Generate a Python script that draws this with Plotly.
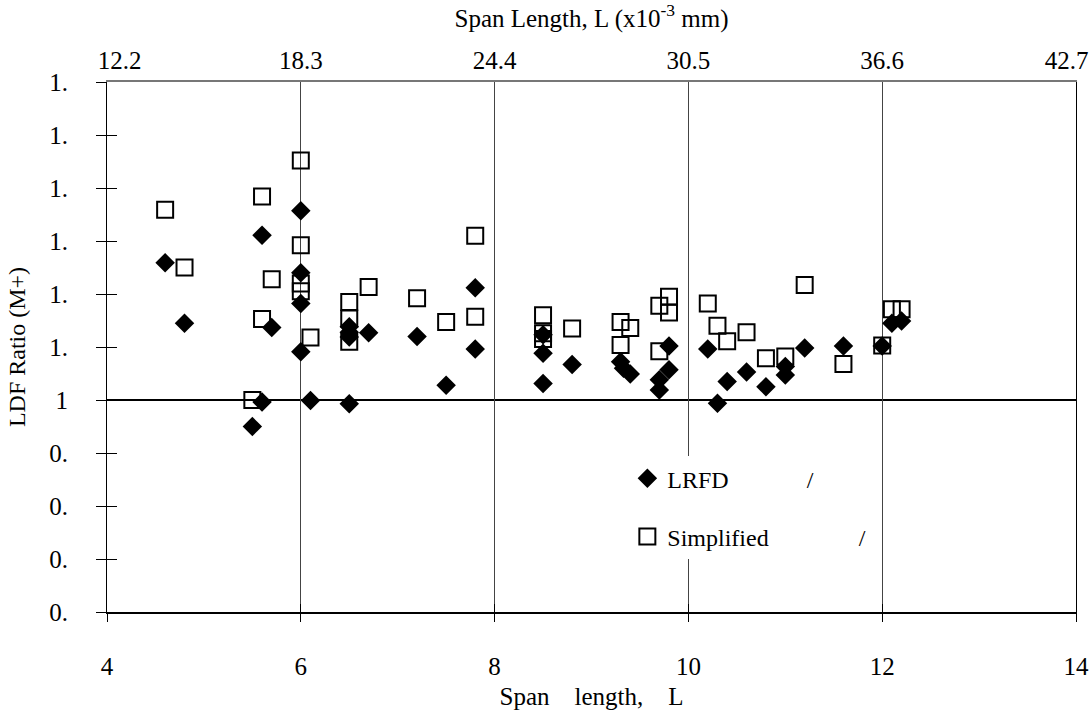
import plotly.graph_objects as go

# ---------------- data ----------------
lrfd_x = [4.6, 4.8, 5.5, 5.6, 5.6, 5.7, 6.0, 6.0, 6.0, 6.0, 6.1, 6.5, 6.5, 6.5, 6.5, 6.7,
          7.2, 7.5, 7.8, 7.8, 8.5, 8.5, 8.5, 8.8, 9.3, 9.33, 9.4, 9.7, 9.7, 9.8, 9.8,
          10.2, 10.3, 10.4, 10.6, 10.8, 11.0, 11.0, 11.2, 11.6, 12.0, 12.1, 12.2]
lrfd_y = [1.259, 1.145, 0.950, 1.311, 0.996, 1.137, 1.357, 1.240, 1.182, 1.091, 0.999,
          1.138, 1.128, 1.119, 0.993, 1.127, 1.120, 1.028, 1.212, 1.096, 1.123, 1.088,
          1.031, 1.067, 1.072, 1.060, 1.049, 1.038, 1.019, 1.102, 1.057, 1.096, 0.994,
          1.035, 1.053, 1.025, 1.063, 1.047, 1.098, 1.102, 1.102, 1.145, 1.149]

simp_x = [4.6, 4.8, 5.5, 5.6, 5.6, 5.7, 6.0, 6.0, 6.0, 6.0, 6.1, 6.5, 6.5, 6.5, 6.7,
          7.2, 7.5, 7.8, 7.8, 8.5, 8.5, 8.5, 8.8, 9.3, 9.3, 9.4, 9.7, 9.7, 9.8, 9.8,
          10.2, 10.3, 10.4, 10.6, 10.8, 11.0, 11.2, 11.6, 12.0, 12.1, 12.2]
simp_y = [1.359, 1.250, 1.000, 1.384, 1.153, 1.228, 1.452, 1.292, 1.220, 1.205, 1.118,
          1.185, 1.154, 1.110, 1.213, 1.192, 1.147, 1.310, 1.157, 1.160, 1.126, 1.115,
          1.135, 1.147, 1.104, 1.136, 1.178, 1.092, 1.195, 1.165, 1.182, 1.140, 1.111,
          1.128, 1.079, 1.082, 1.217, 1.068, 1.103, 1.171, 1.171]

x_ticks = [4, 6, 8, 10, 12, 14]
x_top_labels = ["12.2", "18.3", "24.4", "30.5", "36.6", "42.7"]
y_ticks = [0.6, 0.7, 0.8, 0.9, 1.0, 1.1, 1.2, 1.3, 1.4, 1.5, 1.6]
y_labels = ["0.", "0.", "0.", "0.", "1", "1.", "1.", "1.", "1.", "1.", "1."]

FONT = "Liberation Serif"
NB = "\u00a0"
FS = 25

# typeset offsets of the first/last top labels (as in the original layout)
top_text = list(x_top_labels)
top_text[0] = NB * 4 + top_text[0]
top_text[-1] = top_text[-1] + NB * 3

fig = go.Figure()

fig.add_trace(go.Scatter(
    x=simp_x, y=simp_y, mode="markers",
    name="Simplified" + NB * 15 + "/",
    legendgroup="s", legendrank=2,
    marker=dict(symbol="square-open", size=16, color="black", line=dict(width=2, color="black")),
))
fig.add_trace(go.Scatter(
    x=lrfd_x, y=lrfd_y, mode="markers",
    name="LRFD" + NB * 13 + "/",
    legendgroup="l", legendrank=1,
    marker=dict(symbol="diamond", size=15, color="black"),
))
# invisible traces to anchor the helper axes (top axis, inside ticks)
fig.add_trace(go.Scatter(x=lrfd_x, y=lrfd_y, xaxis="x2", yaxis="y", mode="markers",
                         marker=dict(opacity=0), showlegend=False, hoverinfo="skip"))
fig.add_trace(go.Scatter(x=lrfd_x, y=lrfd_y, xaxis="x3", yaxis="y2", mode="markers",
                         marker=dict(opacity=0), showlegend=False, hoverinfo="skip"))

fig.add_hline(y=1.0, line=dict(color="black", width=2), layer="below")

fig.update_layout(
    width=1091, height=715,
    paper_bgcolor="white", plot_bgcolor="white",
    margin=dict(l=107, r=15, t=82, b=103, autoexpand=False),
    font=dict(family=FONT, size=FS, color="black"),
    showlegend=True,
    legend=dict(
        x=0.537, y=0.294, xanchor="left", yanchor="top",
        bgcolor="white", borderwidth=0,
        font=dict(family=FONT, size=24, color="black"),
        tracegroupgap=24, traceorder="grouped",
    ),
    xaxis=dict(
        range=[4, 14], tickvals=x_ticks, ticktext=[str(v) for v in x_ticks],
        ticks="outside", ticklen=8, tickcolor="black", tickwidth=1,
        showline=True, linecolor="black", linewidth=2,
        showgrid=True, gridcolor="#444", gridwidth=1,
        zeroline=False, ticklabelstandoff=23, automargin=False,
        ticklabeloverflow="allow",
        tickfont=dict(size=FS),
        title=dict(text="Span" + NB * 4 + "length," + NB * 4 + "L", font=dict(size=FS), standoff=8),
    ),
    xaxis2=dict(
        range=[4, 14], overlaying="x", side="top", anchor="y",
        tickvals=x_ticks, ticktext=top_text,
        ticks="", showline=True, linecolor="#777", linewidth=2,
        showgrid=False, zeroline=False, ticklabelstandoff=1, automargin=False,
        ticklabeloverflow="allow",
        tickfont=dict(size=FS),
        title=dict(text="Span Length, L (x10<sup>-3</sup> mm)", font=dict(size=FS), standoff=20),
    ),
    xaxis3=dict(
        range=[4, 14], overlaying="x", anchor="y", side="bottom",
        tickvals=x_ticks, showticklabels=False, automargin=False,
        ticks="inside", ticklen=8, tickcolor="black",
        showline=False, showgrid=False, zeroline=False,
    ),
    yaxis=dict(
        range=[0.6, 1.6], tickvals=y_ticks, ticktext=y_labels,
        ticks="outside", ticklen=10, tickcolor="black",
        showline=True, linecolor="black", linewidth=1, mirror=True,
        showgrid=False, zeroline=False, ticklabelstandoff=23, automargin=False,
        ticklabeloverflow="allow",
        tickfont=dict(size=FS),
        title=dict(text="LDF Ratio (M+)", font=dict(size=24), standoff=16),
    ),
    yaxis2=dict(
        range=[0.6, 1.6], overlaying="y", anchor="x", side="left",
        tickvals=y_ticks, showticklabels=False, automargin=False,
        ticks="inside", ticklen=10, tickcolor="black",
        showline=False, showgrid=False, zeroline=False,
    ),
)

fig.write_html(
    "out.html",
    config={"displayModeBar": False},
    post_script="document.body.style.margin='0';document.body.style.overflow='hidden';",
)
